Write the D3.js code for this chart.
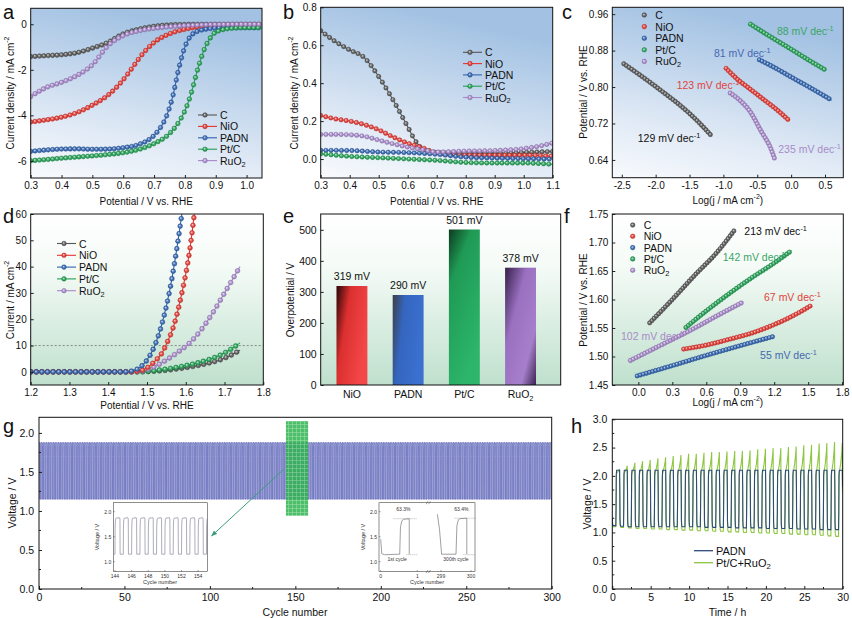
<!DOCTYPE html>
<html><head><meta charset="utf-8">
<script src="https://cdn.jsdelivr.net/npm/d3@7"></script>
<style>body{margin:0;background:#fff}svg{display:block}</style>
</head><body><script>
'use strict';

// ---------- data ----------
const seriesNames = ['C', 'NiO', 'PADN', 'Pt/C', 'RuO2'];
const seriesLabels = ['C', 'NiO', 'PADN', 'Pt/C', 'RuO_{2}'];
const seriesColors = ['#555555', '#e5352f', '#2f62b0', '#20a052', '#a888cc'];

// a: ORR polarisation (V vs RHE, mA cm-2)
const aC = [[0.30,-1.42],[0.35,-1.38],[0.40,-1.34],[0.45,-1.25],[0.50,-1.05],[0.55,-0.80],[0.60,-0.42],[0.65,-0.22],[0.70,-0.09],[0.75,-0.03],[0.80,-0.01],[0.90,0],[1.05,0]];
const aNiO = [[0.30,-4.29],[0.35,-4.20],[0.40,-4.08],[0.45,-3.88],[0.50,-3.55],[0.55,-3.12],[0.60,-2.44],[0.63,-1.90],[0.66,-1.35],[0.70,-0.80],[0.75,-0.42],[0.80,-0.22],[0.85,-0.10],[0.90,-0.05],[1.00,-0.02],[1.05,-0.02]];
const aPADN = [[0.30,-5.58],[0.35,-5.52],[0.40,-5.48],[0.45,-5.47],[0.50,-5.49],[0.55,-5.48],[0.60,-5.42],[0.65,-5.28],[0.70,-4.88],[0.72,-4.55],[0.74,-4.05],[0.76,-3.20],[0.78,-1.95],[0.80,-1.00],[0.82,-0.50],[0.85,-0.27],[0.90,-0.17],[0.95,-0.15],[1.05,-0.15]];
const aPtC = [[0.30,-5.99],[0.35,-5.94],[0.40,-5.88],[0.45,-5.83],[0.50,-5.78],[0.55,-5.72],[0.60,-5.64],[0.65,-5.50],[0.70,-5.24],[0.75,-4.80],[0.78,-4.30],[0.80,-3.80],[0.82,-3.05],[0.84,-2.05],[0.86,-1.20],[0.88,-0.65],[0.90,-0.35],[0.95,-0.18],[1.00,-0.15],[1.05,-0.15]];
const aRuO2 = [[0.30,-3.17],[0.35,-2.78],[0.40,-2.55],[0.45,-2.25],[0.50,-1.78],[0.55,-0.95],[0.60,-0.50],[0.65,-0.29],[0.70,-0.18],[0.75,-0.11],[0.80,-0.06],[0.85,-0.03],[0.90,-0.01],[1.05,0]];

// b
const bC = [[0.30,0.677],[0.35,0.62],[0.40,0.575],[0.45,0.535],[0.50,0.435],[0.55,0.31],[0.60,0.17],[0.625,0.10],[0.65,0.055],[0.70,0.035],[0.80,0.03],[0.90,0.03],[1.00,0.035],[1.10,0.04]];
const bNiO = [[0.30,0.23],[0.35,0.212],[0.40,0.20],[0.45,0.182],[0.50,0.154],[0.55,0.116],[0.60,0.084],[0.65,0.06],[0.70,0.032],[0.80,0.02],[0.90,0.02],[1.00,0.02],[1.10,0.015]];
const bPADN = [[0.30,0.046],[0.40,0.045],[0.50,0.037],[0.60,0.034],[0.70,0.025],[0.80,0.01],[0.90,0.005],[1.00,0.002],[1.10,0.0]];
const bPtC = [[0.30,0.028],[0.40,0.014],[0.50,0.007],[0.60,0.0],[0.70,-0.007],[0.80,-0.018],[0.90,-0.021],[1.00,-0.021],[1.10,-0.028]];
const bRuO2 = [[0.30,0.13],[0.35,0.13],[0.40,0.128],[0.45,0.12],[0.50,0.10],[0.55,0.08],[0.60,0.063],[0.65,0.05],[0.70,0.037],[0.80,0.042],[0.90,0.045],[1.00,0.055],[1.05,0.067],[1.10,0.085]];

// c: ORR Tafel
const cC = [[-2.47,0.851],[-2.2,0.823],[-1.9,0.790],[-1.6,0.755],[-1.4,0.728],[-1.17,0.692]];
const cNiO = [[-0.96,0.841],[-0.8,0.818],[-0.6,0.795],[-0.4,0.772],[-0.2,0.749],[-0.02,0.725]];
const cPADN = [[-0.47,0.860],[-0.2,0.839],[0.0,0.822],[0.3,0.797],[0.6,0.771]];
const cPtC = [[-0.6,0.938],[-0.3,0.910],[0.0,0.883],[0.25,0.860],[0.5,0.838]];
const cRuO2 = [[-0.9,0.787],[-0.75,0.770],[-0.6,0.745],[-0.45,0.705],[-0.3,0.665],[-0.24,0.641]];
const cSlopes = ['129', '123', '81', '88', '235'];

// d: OER polarisation
const dC = [[1.20,0],[1.45,0],[1.50,0.1],[1.55,0.6],[1.60,1.6],[1.65,3.0],[1.70,5.2],[1.74,8.2]];
const dNiO = [[1.20,0],[1.45,0],[1.48,0.3],[1.50,1.5],[1.52,4.0],[1.54,7.5],[1.55,10.5],[1.57,18],[1.59,30],[1.61,46],[1.622,60]];
const dPADN = [[1.20,0],[1.44,0],[1.46,0.3],[1.48,1.5],[1.50,4.5],[1.52,10],[1.54,19],[1.56,32],[1.575,45],[1.59,60]];
const dPtC = [[1.20,0],[1.48,0],[1.52,0.5],[1.56,1.3],[1.60,2.4],[1.64,3.8],[1.68,5.8],[1.71,8.0],[1.74,11]];
const dRuO2 = [[1.20,0],[1.46,0],[1.48,0.1],[1.50,0.8],[1.52,2.0],[1.55,4.5],[1.58,7.5],[1.61,11],[1.64,16],[1.67,22.5],[1.70,30],[1.74,40]];
const dRefCurrent = 10;

// e: overpotential at 10 mA cm-2
const eCategories = ['NiO', 'PADN', 'Pt/C', 'RuO_{2}'];
const eValues = [319, 290, 501, 378];

// f: OER Tafel
const fC = [[0.10,1.559],[0.3,1.600],[0.5,1.643],[0.7,1.684],[0.85,1.722]];
const fNiO = [[0.40,1.513],[0.6,1.520],[0.8,1.530],[1.0,1.541],[1.2,1.556],[1.4,1.575],[1.53,1.590]];
const fPADN = [[-0.01,1.466],[0.3,1.484],[0.6,1.502],[0.9,1.519],[1.19,1.535]];
const fPtC = [[0.42,1.551],[0.6,1.580],[0.8,1.610],[1.0,1.638],[1.2,1.664],[1.354,1.686]];
const fRuO2 = [[-0.07,1.493],[0.2,1.520],[0.5,1.550],[0.7,1.572],[0.93,1.596]];
const fSlopes = ['213', '67', '55', '142', '102'];

// g: zinc-air cycling (cycle shape repeated for every cycle)
const gCycleCount = 300;
const gCycleShape = [[0,1.15],[0.02,1.70],[0.06,1.84],[0.12,1.87],[0.55,1.88],[0.60,1.85],[0.62,1.15],[1,1.15]];
const gZoomCycles = [144.5, 157.5];
const gZoomVolts = [0.94, 2.15];
const inset1Cycles = [143.8, 155.1];
const inset2First = [[0,1.45],[0.03,1.16],[0.1,1.14],[0.52,1.15],[0.54,1.70],[0.58,1.82],[0.63,1.85],[0.78,1.86],[0.78,1.15]];
const inset2Last = [[298.88,1.95],[298.95,1.65],[299.02,1.15],[299.5,1.15],[299.53,1.72],[299.58,1.84],[299.63,1.86],[299.86,1.87],[299.86,1.15]];
const inset2Eff = ['63.3%', '63.4%'];

// h: 30 h cycling, per-hour levels
const hPadnHigh = [2.10,2.10,2.10,2.10,2.10,2.10,2.10,2.10,2.10,2.10,2.10,2.10,2.10,2.10,2.10,2.10,2.10,2.10,2.10,2.10,2.10,2.10,2.10,2.10,2.10,2.10,2.10,2.10,2.10,2.10];
const hPadnLow = [1.12,1.11,1.10,1.10,1.10,1.10,1.10,1.10,1.10,1.10,1.10,1.10,1.09,1.09,1.09,1.09,1.08,1.08,1.08,1.08,1.07,1.07,1.07,1.07,1.06,1.06,1.06,1.05,1.05,1.05];
const hPtPeak = [2.12,2.18,2.23,2.26,2.28,2.31,2.33,2.35,2.37,2.39,2.39,2.41,2.42,2.42,2.43,2.44,2.44,2.45,2.47,2.48,2.49,2.49,2.51,2.52,2.54,2.55,2.57,2.58,2.60,2.58];
const hPtLow = [1.10,1.09,1.08,1.07,1.07,1.06,1.06,1.05,1.05,1.04,1.04,1.03,1.03,1.02,1.02,1.01,1.01,1.00,1.00,0.99,0.99,0.98,0.98,0.97,0.97,0.96,0.96,0.95,0.94,0.93];

// tick values
const aTicksX = [0.3,0.4,0.5,0.6,0.7,0.8,0.9,1.0], aTicksY = [-6,-4,-2,0];
const bTicksX = [0.3,0.4,0.5,0.6,0.7,0.8,0.9,1.0,1.1], bTicksY = [0.0,0.2,0.4,0.6,0.8];
const cTicksX = [-2.5,-2.0,-1.5,-1.0,-0.5,0.0,0.5], cTicksY = [0.64,0.72,0.80,0.88,0.96];
const dTicksX = [1.2,1.3,1.4,1.5,1.6,1.7,1.8], dTicksY = [0,10,20,30,40,50,60];
const eTicksY = [0,100,200,300,400,500];
const fTicksX = [0.0,0.3,0.6,0.9,1.2,1.5,1.8], fTicksY = [1.45,1.50,1.55,1.60,1.65,1.70,1.75];
const gTicksX = [0,50,100,150,200,250,300], gTicksY = [0.0,0.5,1.0,1.5,2.0];
const gMinorX = [25,75,125,175,225,275], gMinorY = [0.25,0.75,1.25,1.75];
const hTicksX = [0,5,10,15,20,25,30], hTicksY = [0.0,0.5,1.0,1.5,2.0,2.5,3.0];
const hMinorX = [2.5,7.5,12.5,17.5,22.5,27.5], hMinorY = [0.25,0.75,1.25,1.75,2.25,2.75];
const insetTicksY = [1.0,1.5,2.0], inset1TicksX = [144,146,148,150,152,154];

// ---------- helpers ----------
const FONT = '"Liberation Sans", Arial, Helvetica, sans-serif';
const fix = s => s.replace('\u2212', '-');
const f0 = d => fix(d3.format('d')(d));
const f1 = d => fix(d3.format('.1f')(d));
const f2 = d => fix(d3.format('.2f')(d));

const svg = d3.select('body').append('svg').attr('width', 852).attr('height', 618)
  .attr('font-family', FONT);
const defs = svg.append('defs');

const bgBlue = defs.append('linearGradient').attr('id', 'bgBlue')
  .attr('x1', 0).attr('y1', 1).attr('x2', 0.3).attr('y2', 0);
[[0,'#f8fafd'],[0.35,'#dfe9f5'],[1,'#a3c2e3']].forEach(s => bgBlue.append('stop').attr('offset', s[0]).attr('stop-color', s[1]));
const bgGreen = defs.append('linearGradient').attr('id', 'bgGreen')
  .attr('x1', 0).attr('y1', 0).attr('x2', 0).attr('y2', 1);
[[0,'#ffffff'],[0.3,'#f5fbf7'],[1,'#bfe0cd']].forEach(s => bgGreen.append('stop').attr('offset', s[0]).attr('stop-color', s[1]));

seriesColors.forEach((c, i) => {
  const rg = defs.append('radialGradient').attr('id', 'mk' + i)
    .attr('cx', 0.5).attr('cy', 0.5).attr('r', 0.55).attr('fx', 0.38).attr('fy', 0.35);
  rg.append('stop').attr('offset', 0).attr('stop-color', d3.interpolateRgb(c, '#fff')(0.75));
  rg.append('stop').attr('offset', 0.5).attr('stop-color', d3.interpolateRgb(c, '#fff')(0.15));
  rg.append('stop').attr('offset', 1).attr('stop-color', d3.color(c).darker(0.6));
});

function rich(sel, str, fs) {
  const re = /([\^_])\{([^}]*)\}/g;
  let last = 0, m, cur = 0;
  const add = (t, dy, small) => {
    const ts = sel.append('tspan').text(t);
    if (dy) ts.attr('dy', dy);
    if (small) ts.attr('font-size', fs * 0.7);
  };
  while ((m = re.exec(str)) !== null) {
    if (m.index > last) { add(str.slice(last, m.index), -cur); cur = 0; }
    const off = m[1] === '^' ? -fs * 0.38 : fs * 0.28;
    add(m[2], off - cur, true);
    cur = off;
    last = re.lastIndex;
  }
  if (last < str.length) add(str.slice(last), -cur);
  return sel;
}

function text(g, x, y, str, o = {}) {
  const fs = o.fs || 10;
  const t = g.append('text').attr('x', x).attr('y', y).attr('font-size', fs)
    .attr('fill', o.color || '#111').attr('text-anchor', o.anchor || 'start');
  if (o.rotate) t.attr('transform', `rotate(-90,${x},${y})`);
  if (o.middle) t.attr('dominant-baseline', 'central');
  return rich(t, str, fs);
}

let clipCount = 0;
function panel(p) {
  const g = svg.append('g');
  const x = p.band
    ? d3.scaleBand().domain(p.xDomain).range([p.x0, p.x1]).paddingInner(0.45).paddingOuter(0.36).align(0.39)
    : d3.scaleLinear().domain(p.xDomain).range([p.x0, p.x1]);
  const y = d3.scaleLinear().domain(p.yDomain).range([p.y1, p.y0]);
  g.append('rect').attr('x', p.x0).attr('y', p.y0).attr('width', p.x1 - p.x0).attr('height', p.y1 - p.y0)
    .attr('fill', p.bg || '#fff');
  const id = 'clip' + (clipCount++);
  defs.append('clipPath').attr('id', id).append('rect')
    .attr('x', p.x0).attr('y', p.y0).attr('width', p.x1 - p.x0).attr('height', p.y1 - p.y0);
  const plot = g.append('g').attr('clip-path', `url(#${id})`);
  const fs = p.fs || 10;
  const xAxis = p.band ? d3.axisBottom(x).tickSize(0).tickPadding(6)
    : d3.axisBottom(x).tickValues(p.xTicks).tickFormat(p.xFmt).tickSizeInner(-3).tickSizeOuter(0).tickPadding(p.pad || 4);
  const xa = g.append('g').attr('transform', `translate(0,${p.y1})`).call(xAxis);
  const yAxis = d3.axisLeft(y).tickValues(p.yTicks).tickFormat(p.yFmt).tickSizeInner(-3).tickSizeOuter(0).tickPadding(p.pad || 4);
  const ya = g.append('g').attr('transform', `translate(${p.x0},0)`).call(yAxis);
  [xa, ya].forEach(a => {
    a.attr('font-family', FONT).attr('font-size', fs);
    a.select('.domain').remove();
    a.selectAll('line').attr('stroke', '#222');
    a.selectAll('text').attr('fill', '#111');
  });
  if (p.band) xa.selectAll('text').each(function(d) { const t = d3.select(this); t.text(''); rich(t, d, fs); });
  (p.xMinor || []).forEach(v => g.append('line').attr('x1', x(v)).attr('x2', x(v)).attr('y1', p.y1).attr('y2', p.y1 - 2).attr('stroke', '#222'));
  (p.yMinor || []).forEach(v => g.append('line').attr('x1', p.x0).attr('x2', p.x0 + 2).attr('y1', y(v)).attr('y2', y(v)).attr('stroke', '#222'));
  return { g, x, y, plot, p };
}

function frame(P) {
  const p = P.p;
  P.g.append('rect').attr('x', p.x0).attr('y', p.y0).attr('width', p.x1 - p.x0).attr('height', p.y1 - p.y0)
    .attr('fill', 'none').attr('stroke', '#111').attr('stroke-width', 1);
}

function drawSeries(P, data, i, o) {
  const line = d3.line().x(d => P.x(d[0])).y(d => P.y(d[1])).curve(d3.curveMonotoneX);
  const path = P.plot.append('path').datum(data).attr('d', line)
    .attr('fill', 'none').attr('stroke', seriesColors[i]).attr('stroke-width', o.w || 1.1);
  const node = path.node(), L = node.getTotalLength();
  const pts = [];
  let prev = node.getPointAtLength(0), acc = o.spacing;
  for (let l = 0; l <= L; l += 0.4) {
    const q = node.getPointAtLength(l);
    acc += Math.hypot(q.x - prev.x, (q.y - prev.y) * o.k);
    prev = q;
    if (acc >= o.spacing) { pts.push(q); acc = 0; }
  }
  P.plot.append('g').selectAll('circle').data(pts).join('circle')
    .attr('cx', d => d.x).attr('cy', d => d.y).attr('r', o.r)
    .attr('fill', `url(#mk${i})`).attr('stroke', d3.color(seriesColors[i]).darker(0.5)).attr('stroke-width', 0.5);
}

function legend(g, x, y, step, withLine, o = {}) {
  seriesLabels.forEach((lab, i) => {
    const yy = y + i * step;
    if (withLine) {
      g.append('line').attr('x1', x).attr('x2', x + 19).attr('y1', yy).attr('y2', yy)
        .attr('stroke', seriesColors[i]).attr('stroke-width', 1.1);
      g.append('circle').attr('cx', x + 7).attr('cy', yy).attr('r', 2.3)
        .attr('fill', `url(#mk${i})`).attr('stroke', d3.color(seriesColors[i]).darker(0.5)).attr('stroke-width', 0.5);
      text(g, x + 22, yy, lab, { fs: o.fs || 10.5, middle: true });
    } else {
      g.append('circle').attr('cx', x).attr('cy', yy).attr('r', 2.3)
        .attr('fill', `url(#mk${i})`).attr('stroke', d3.color(seriesColors[i]).darker(0.5)).attr('stroke-width', 0.5);
      text(g, x + 11, yy, lab, { fs: o.fs || 10.5, middle: true });
    }
  });
}

function letter(ch, x, y) {
  svg.append('text').attr('x', x).attr('y', y).attr('font-family', FONT)
    .attr('font-size', 20).attr('fill', '#111').text(ch);
}

// ---------- a ----------
const A = panel({ x0: 30.7, x1: 262, y0: 8.3, y1: 178, xDomain: [0.3, 1.05], yDomain: [-6.75, 0.7],
  bg: 'url(#bgBlue)', xTicks: aTicksX, yTicks: aTicksY, xFmt: f1, yFmt: f0 });
[aC, aNiO, aPADN, aPtC, aRuO2].forEach((s, i) => drawSeries(A, s, i, { spacing: 4.3, k: 0.55, r: 2.3 }));
legend(A.g, 198, 115, 11.4, true);
frame(A);
text(svg, 146.3, 201, 'Potential / V vs. RHE', { anchor: 'middle', middle: true });
text(svg, 10, 93, 'Current density / mA cm^{-2}', { anchor: 'middle', middle: true, rotate: true });
letter('a', 3, 19);

// ---------- b ----------
const B = panel({ x0: 320.7, x1: 552.7, y0: 7.3, y1: 178, xDomain: [0.3, 1.1], yDomain: [-0.1, 0.8],
  bg: 'url(#bgBlue)', xTicks: bTicksX, yTicks: bTicksY, xFmt: f1, yFmt: f1 });
[bC, bNiO, bPADN, bPtC, bRuO2].forEach((s, i) => drawSeries(B, s, i, { spacing: 4.8, k: 0.6, r: 2.2 }));
legend(B.g, 463, 52.3, 11.3, true);
frame(B);
text(svg, 436.7, 201, 'Potential / V vs. RHE', { anchor: 'middle', middle: true });
text(svg, 293.5, 93, 'Current density / mA cm^{-2}', { anchor: 'middle', middle: true, rotate: true });
letter('b', 283, 19);

// ---------- c ----------
const Cp = panel({ x0: 612.3, x1: 843.3, y0: 7.3, y1: 177.7, xDomain: [-2.64, 0.77], yDomain: [0.601, 0.975],
  bg: 'url(#bgBlue)', xTicks: cTicksX, yTicks: cTicksY, xFmt: f1, yFmt: f2 });
[cC, cNiO, cPADN, cPtC, cRuO2].forEach((s, i) => drawSeries(Cp, s, i, { spacing: 3.0, k: 1, r: 2.2, w: 0.8 }));
legend(Cp.g, 644.3, 15, 11.6, false);
const cLabelAt = [[-2.265, 0.679], [-1.69, 0.795], [-1.14, 0.865], [-0.21, 0.914], [-0.19, 0.655]];
const cLabelColor = ['#111', '#e0443c', '#4668b0', '#3aa566', '#a88bc8'];
cSlopes.forEach((s, i) => text(Cp.g, Cp.x(cLabelAt[i][0]), Cp.y(cLabelAt[i][1]), s + ' mV dec^{-1}', { fs: 10.5, color: cLabelColor[i] }));
frame(Cp);
text(svg, 727.8, 200, 'Log(j / mA cm^{-2})', { anchor: 'middle', middle: true });
text(svg, 582.7, 92, 'Potential / V vs. RHE', { anchor: 'middle', middle: true, rotate: true });
letter('c', 562, 19);

// ---------- d ----------
const D = panel({ x0: 30.7, x1: 263.3, y0: 214, y1: 385, xDomain: [1.2, 1.8], yDomain: [-5, 60],
  bg: 'url(#bgGreen)', xTicks: dTicksX, yTicks: dTicksY, xFmt: f1, yFmt: f0 });
D.plot.append('line').attr('x1', D.x(1.2)).attr('x2', D.x(1.8)).attr('y1', D.y(dRefCurrent)).attr('y2', D.y(dRefCurrent))
  .attr('stroke', '#666').attr('stroke-width', 0.7).attr('stroke-dasharray', '2,2');
const dSeries = [dC, dNiO, dPADN, dPtC, dRuO2];
[0, 3, 4, 1, 2].forEach(i => drawSeries(D, dSeries[i], i, { spacing: 5.5, k: 0.75, r: 2.4 }));
legend(D.g, 57, 243.5, 11.8, true);
frame(D);
text(svg, 147, 405, 'Potential / V vs. RHE', { anchor: 'middle', middle: true });
text(svg, 10, 300, 'Current / mA cm^{-2}', { anchor: 'middle', middle: true, rotate: true });
letter('d', 3, 223);

// ---------- e ----------
const barStops = [
  [[0,'#2a0606'],[0.38,'#dc2f2f'],[1,'#f44848']],
  [[0,'#3d3f4a'],[0.38,'#3466bf'],[1,'#3c70d0']],
  [[0,'#0c3b1e'],[0.3,'#1f9a55'],[1,'#2db66b']],
  [[0,'#35204a'],[0.35,'#9a70c0'],[0.75,'#a67fcb'],[1,'#3a2450']]
];
const barDir = [[0,0,1,0.5],[0,0,1,0.3],[0,0,0.5,1],[0,0,1,1]];
barStops.forEach((st, i) => {
  const lg = defs.append('linearGradient').attr('id', 'bar' + i)
    .attr('x1', barDir[i][0]).attr('y1', barDir[i][1]).attr('x2', barDir[i][2]).attr('y2', barDir[i][3]);
  st.forEach(s => lg.append('stop').attr('offset', s[0]).attr('stop-color', s[1]));
});
const E = panel({ x0: 320.7, x1: 560.7, y0: 214, y1: 385, band: true, xDomain: eCategories, yDomain: [0, 551],
  bg: 'url(#bgGreen)', yTicks: eTicksY, yFmt: f0, fs: 10.5 });
E.plot.selectAll('rect.bar').data(eValues).join('rect').attr('class', 'bar')
  .attr('x', (d, i) => E.x(eCategories[i])).attr('width', E.x.bandwidth())
  .attr('y', d => E.y(d)).attr('height', d => E.y(0) - E.y(d))
  .attr('fill', (d, i) => `url(#bar${i})`);
eValues.forEach((v, i) => text(E.g, E.x(eCategories[i]) + E.x.bandwidth() / 2, E.y(v) - 6, v + ' mV', { anchor: 'middle', fs: 10.5 }));
frame(E);
text(svg, 289.5, 300, 'Overpotential / V', { anchor: 'middle', middle: true, rotate: true });
letter('e', 283, 223);

// ---------- f ----------
const F = panel({ x0: 612.3, x1: 843.3, y0: 214, y1: 385, xDomain: [-0.23, 1.81], yDomain: [1.45, 1.75],
  bg: 'url(#bgGreen)', xTicks: fTicksX, yTicks: fTicksY, xFmt: f1, yFmt: f2 });
[fC, fNiO, fPADN, fPtC, fRuO2].forEach((s, i) => drawSeries(F, s, i, { spacing: 3.0, k: 1, r: 2.2, w: 0.8 }));
legend(F.g, 632.7, 225, 11.3, false);
const fLabelAt = [[0.936, 1.713], [1.11, 1.597], [1.075, 1.496], [0.745, 1.668], [-0.153, 1.529]];
const fLabelColor = ['#111', '#e0443c', '#4668b0', '#3aa566', '#a88bc8'];
fSlopes.forEach((s, i) => text(F.g, F.x(fLabelAt[i][0]), F.y(fLabelAt[i][1]), s + ' mV dec^{-1}', { fs: 10.5, color: fLabelColor[i] }));
frame(F);
text(svg, 727.8, 402, 'Log(j / mA cm^{-2})', { anchor: 'middle', middle: true });
text(svg, 582.7, 300, 'Potential / V vs. RHE', { anchor: 'middle', middle: true, rotate: true });
letter('f', 564, 223);

// ---------- g ----------
const G = panel({ x0: 39, x1: 551.7, y0: 417.3, y1: 589, xDomain: [0, 300], yDomain: [0, 2.2],
  xTicks: gTicksX, yTicks: gTicksY, xFmt: f0, yFmt: f1, fs: 10.5, pad: 5, xMinor: gMinorX, yMinor: gMinorY });
const cyclePts = (k0, k1) => {
  const pts = [];
  for (let k = k0; k < k1; k++) gCycleShape.forEach(([f, v]) => pts.push([k + f, v]));
  return pts;
};
G.plot.append('path').attr('d', d3.line().x(d => G.x(d[0])).y(d => G.y(d[1]))(cyclePts(0, gCycleCount)))
  .attr('fill', 'none').attr('stroke', '#4d56b2').attr('stroke-width', 0.7);
const gp = defs.append('pattern').attr('id', 'gridGreen').attr('patternUnits', 'userSpaceOnUse')
  .attr('width', 4).attr('height', 4);
gp.append('rect').attr('width', 4).attr('height', 4).attr('fill', '#2eb24f');
gp.append('path').attr('d', 'M0 0.5H4M0.5 0V4').attr('stroke', '#86d896').attr('stroke-width', 0.6);
G.plot.append('rect').attr('x', G.x(gZoomCycles[0])).attr('width', G.x(gZoomCycles[1]) - G.x(gZoomCycles[0]))
  .attr('y', G.y(gZoomVolts[1])).attr('height', G.y(gZoomVolts[0]) - G.y(gZoomVolts[1]))
  .attr('fill', 'url(#gridGreen)').attr('opacity', 0.85);
defs.append('marker').attr('id', 'arrow').attr('viewBox', '0 0 10 10').attr('refX', 9).attr('refY', 5)
  .attr('markerWidth', 6).attr('markerHeight', 6).attr('orient', 'auto')
  .append('path').attr('d', 'M0,1L10,5L0,9z').attr('fill', '#3a9e7c');
G.g.append('line').attr('x1', G.x(143)).attr('y1', G.y(1.53)).attr('x2', G.x(101)).attr('y2', G.y(0.68))
  .attr('stroke', '#3a9e7c').attr('stroke-width', 1).attr('marker-end', 'url(#arrow)');

function insetFrame(x0, x1, y0, y1) {
  G.g.append('rect').attr('x', x0).attr('y', y0).attr('width', x1 - x0).attr('height', y1 - y0)
    .attr('fill', '#fff').attr('stroke', '#444').attr('stroke-width', 0.6);
}
function smallAxisY(y, x0) {
  insetTicksY.forEach(v => {
    G.g.append('line').attr('x1', x0).attr('x2', x0 + 1.5).attr('y1', y(v)).attr('y2', y(v)).attr('stroke', '#444').attr('stroke-width', 0.5);
    text(G.g, x0 - 2, y(v), f1(v), { fs: 5, anchor: 'end', middle: true, color: '#333' });
  });
}
// inset 1
const i1 = { x0: 113.3, x1: 207.3, y0: 502.7, y1: 571.5 };
insetFrame(i1.x0, i1.x1, i1.y0, i1.y1);
const i1x = d3.scaleLinear().domain(inset1Cycles).range([i1.x0, i1.x1]);
const i1y = d3.scaleLinear().domain([0.804, 2.18]).range([i1.y1, i1.y0]);
defs.append('clipPath').attr('id', 'clipI1').append('rect').attr('x', i1.x0).attr('y', i1.y0).attr('width', i1.x1 - i1.x0).attr('height', i1.y1 - i1.y0);
G.g.append('path').attr('clip-path', 'url(#clipI1)')
  .attr('d', d3.line().x(d => i1x(d[0])).y(d => i1y(d[1]))(cyclePts(143, 156)))
  .attr('fill', 'none').attr('stroke', '#8a8a9a').attr('stroke-width', 0.7);
smallAxisY(i1y, i1.x0);
inset1TicksX.forEach(v => {
  G.g.append('line').attr('x1', i1x(v)).attr('x2', i1x(v)).attr('y1', i1.y1).attr('y2', i1.y1 - 1.5).attr('stroke', '#444').attr('stroke-width', 0.5);
  text(G.g, i1x(v), i1.y1 + 6, String(v), { fs: 5, anchor: 'middle', color: '#333' });
});
text(G.g, 160, 584, 'Cycle number', { fs: 5.5, anchor: 'middle', color: '#333' });
text(G.g, 97, 537, 'Voltage / V', { fs: 5.5, anchor: 'middle', middle: true, rotate: true, color: '#333' });

// inset 2 (broken x axis)
const i2 = { x0: 379, x1: 475, y0: 502.7, y1: 571.5 };
insetFrame(i2.x0, i2.x1, i2.y0, i2.y1);
const i2xa = d3.scaleLinear().domain([0, 1]).range([380.7, 417.3]);
const i2xb = d3.scaleLinear().domain([299, 300]).range([441, 471]);
const i2y = i1y;
const i2line = xs => d3.line().x(d => xs(d[0])).y(d => i2y(d[1]));
G.g.append('path').attr('d', i2line(i2xa)(inset2First)).attr('fill', 'none').attr('stroke', '#777').attr('stroke-width', 0.7);
G.g.append('path').attr('d', i2line(i2xb)(inset2Last)).attr('fill', 'none').attr('stroke', '#777').attr('stroke-width', 0.7);
const dotted = (xa, xb, v) => G.g.append('line').attr('x1', xa).attr('x2', xb).attr('y1', i2y(v)).attr('y2', i2y(v))
  .attr('stroke', '#777').attr('stroke-width', 0.5).attr('stroke-dasharray', '1,1');
dotted(i2xa(0.35), i2xa(1.0), 1.86); dotted(i2xa(0.7), i2xa(1.0), 1.14);
dotted(i2xb(299.45), i2xb(300.15), 1.87); dotted(i2xb(299.75), i2xb(300.15), 1.14);
text(G.g, i2xa(0.62), i2y(2.02), inset2Eff[0], { fs: 5, anchor: 'middle', color: '#333' });
text(G.g, i2xb(299.68), i2y(2.02), inset2Eff[1], { fs: 5, anchor: 'middle', color: '#333' });
text(G.g, i2xa(0.45), i2y(1.02), '1st cycle', { fs: 5, anchor: 'middle', color: '#333' });
text(G.g, i2xb(299.5), i2y(1.02), '300th cycle', { fs: 5, anchor: 'middle', color: '#333' });
smallAxisY(i2y, i2.x0);
[[i2xa, 0], [i2xa, 1], [i2xb, 299], [i2xb, 300]].forEach(([s, v]) => {
  G.g.append('line').attr('x1', s(v)).attr('x2', s(v)).attr('y1', i2.y1).attr('y2', i2.y1 - 1.5).attr('stroke', '#444').attr('stroke-width', 0.5);
  text(G.g, s(v), i2.y1 + 6, String(v), { fs: 5, anchor: 'middle', color: '#333' });
});
[i2.y0, i2.y1].forEach(yy => G.g.append('path').attr('d', `M${426},${yy + 1.5}L${428},${yy - 1.5}M${428.5},${yy + 1.5}L${430.5},${yy - 1.5}`)
  .attr('stroke', '#444').attr('stroke-width', 0.5));
text(G.g, 427, 584, 'Cycle number', { fs: 5.5, anchor: 'middle', color: '#333' });
text(G.g, 363, 537, 'Voltage / V', { fs: 5.5, anchor: 'middle', middle: true, rotate: true, color: '#333' });
frame(G);
text(svg, 295, 612, 'Cycle number', { anchor: 'middle', middle: true, fs: 10.5 });
text(svg, 12, 503, 'Voltage / V', { anchor: 'middle', middle: true, rotate: true, fs: 10.5 });
letter('g', 3, 433);

// ---------- h ----------
const Hp = panel({ x0: 612.3, x1: 842.7, y0: 419.3, y1: 589, xDomain: [0, 30], yDomain: [0, 3],
  xTicks: hTicksX, yTicks: hTicksY, xFmt: f0, yFmt: f1, fs: 10.5, pad: 5, xMinor: hMinorX, yMinor: hMinorY });
const hPt = [], hPadn = [];
hPtLow.forEach((lo, k) => {
  const pk = hPtPeak[k];
  hPt.push([k, lo + 0.15], [k + 0.04, lo + 0.03], [k + 0.12, lo], [k + 0.46, lo], [k + 0.49, lo + 0.35],
    [k + 0.52, 1.98], [k + 0.56, 2.05], [k + 0.75, 2.05 + (pk - 2.05) * 0.35], [k + 0.88, 2.05 + (pk - 2.05) * 0.72],
    [k + 0.94, pk], [k + 0.97, 1.7]);
});
hPadnLow.forEach((lo, k) => {
  const hi = hPadnHigh[k];
  hPadn.push([k, lo + 0.12], [k + 0.04, lo + 0.02], [k + 0.1, lo], [k + 0.46, lo], [k + 0.49, lo + 0.3],
    [k + 0.52, hi - 0.08], [k + 0.56, hi], [k + 0.95, hi], [k + 0.98, hi - 0.3]);
});
const hLine = d3.line().x(d => Hp.x(d[0])).y(d => Hp.y(d[1]));
Hp.plot.append('path').attr('d', hLine(hPt)).attr('fill', 'none').attr('stroke', '#8dc63f').attr('stroke-width', 1.1);
Hp.plot.append('path').attr('d', hLine(hPadn)).attr('fill', 'none').attr('stroke', '#2d4b7a').attr('stroke-width', 1.1);
[['PADN', '#2d4b7a', 550.7], ['Pt/C+RuO_{2}', '#8dc63f', 562.7]].forEach(([lab, col, yy]) => {
  Hp.g.append('line').attr('x1', 694).attr('x2', 713).attr('y1', yy).attr('y2', yy).attr('stroke', col).attr('stroke-width', 1.3);
  text(Hp.g, 716, yy, lab, { fs: 11, middle: true });
});
frame(Hp);
text(svg, 727.5, 612, 'Time / h', { anchor: 'middle', middle: true, fs: 10.5 });
text(svg, 586.5, 504, 'Voltage / V', { anchor: 'middle', middle: true, rotate: true, fs: 10.5 });
letter('h', 571, 433);
</script></body></html>
